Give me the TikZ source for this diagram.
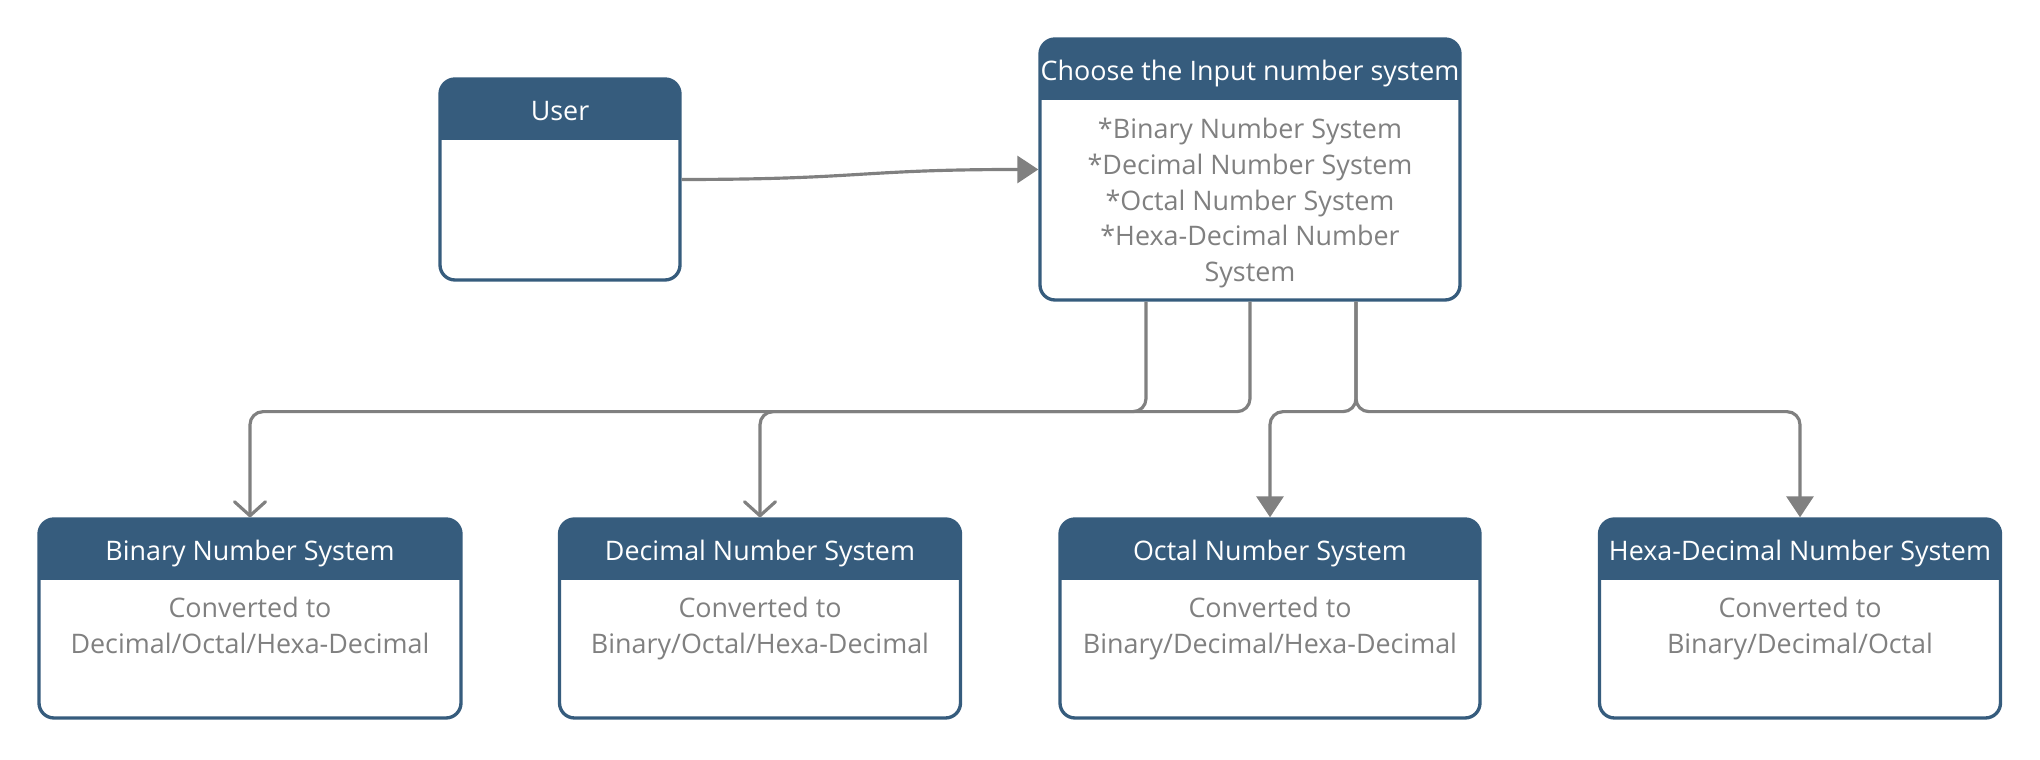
\documentclass[tikz,border=0pt]{standalone}
\usepackage{fontspec}
\setmainfont{Open Sans}
\usepackage{tikz}
\usetikzlibrary{arrows.meta}
\usetikzlibrary{positioning}
\definecolor{headblue}{RGB}{54,92,125}
\definecolor{linegray}{RGB}{128,128,128}
\definecolor{textgray}{RGB}{128,128,128}

\begin{document}
\begin{tikzpicture}[
		every node/.style={font=\fontsize{7.65}{10.2}\selectfont},
		box/.style={draw=headblue, line width=0.95pt, rounded corners=0.15cm, fill=white,
			minimum height=1.99cm,
			path picture={\fill[headblue, sharp corners] (path picture bounding box.north west)
				rectangle ([yshift=-0.61cm]path picture bounding box.north east);}},
		headtext/.style={text=white, inner sep=0, anchor=base},
		bodytext/.style={text=textgray, align=center, inner sep=0, anchor=north},
		flow/.style={draw=linegray, line width=0.9pt, rounded corners=0.13cm},
		openhead/.style={-{Straight Barb[length=1.4mm, width=3.1mm, round]}},
		fullhead/.style={-{Triangle[length=2.1mm, width=2.7mm]}}
	]
	\useasboundingbox (0,0) rectangle (20.40,7.60);

	% Top row
	\node[box, minimum width=2.40cm, minimum height=2.01cm] (user) at (5.60,5.805) {};
	\node[headtext] (user-head) at ([yshift=-0.43cm]user.north) {User};

	\node[box, minimum width=4.20cm, minimum height=2.61cm] (choose) at (12.50,5.905) {};
	\node[headtext] (choose-head) at ([yshift=-0.43cm]choose.north) {Choose the Input number system};
	\node[bodytext] (choose-body) at ([yshift=-0.80cm]choose.north)
	{*Binary Number System\\*Decimal Number System\\*Octal Number System\\*Hexa-Decimal Number\\System};

	% Bottom row
	\node[box, minimum width=4.22cm] (binary) at (2.50,1.415) {};
	\node[headtext] (binary-head) at ([yshift=-0.43cm]binary.north) {Binary Number System};
	\node[bodytext] (binary-body) at ([yshift=-0.79cm]binary.north) {Converted to\\Decimal/Octal/Hexa-Decimal};

	\node[box, minimum width=4.01cm] (decimal) at (7.60,1.415) {};
	\node[headtext] (decimal-head) at ([yshift=-0.43cm]decimal.north) {Decimal Number System};
	\node[bodytext] (decimal-body) at ([yshift=-0.79cm]decimal.north) {Converted to\\Binary/Octal/Hexa-Decimal};

	\node[box, minimum width=4.20cm] (octal) at (12.70,1.415) {};
	\node[headtext] (octal-head) at ([yshift=-0.43cm]octal.north) {Octal Number System};
	\node[bodytext] (octal-body) at ([yshift=-0.79cm]octal.north) {Converted to\\Binary/Decimal/Hexa-Decimal};

	\node[box, minimum width=4.01cm] (hexa) at (18.00,1.415) {};
	\node[headtext] (hexa-head) at ([yshift=-0.43cm]hexa.north) {Hexa-Decimal Number System};
	\node[bodytext] (hexa-body) at ([yshift=-0.79cm]hexa.north) {Converted to\\Binary/Decimal/Octal};

	% Connectors
	\draw[flow, fullhead] (user.east) .. controls +(1.8,0) and +(-1.8,0) .. (choose.west);
	\draw[flow, openhead] ([xshift=-1.04cm]choose.south) -- ++(0,-1.10) -| (binary.north);
	\draw[flow, openhead] (choose.south) -- ++(0,-1.10) -| (decimal.north);
	\draw[flow, fullhead] ([xshift=1.06cm]choose.south) -- ++(0,-1.10) -| (octal.north);
	\draw[flow, fullhead] ([xshift=1.06cm]choose.south) -- ++(0,-1.10) -| (hexa.north);

\end{tikzpicture}
\end{document}
